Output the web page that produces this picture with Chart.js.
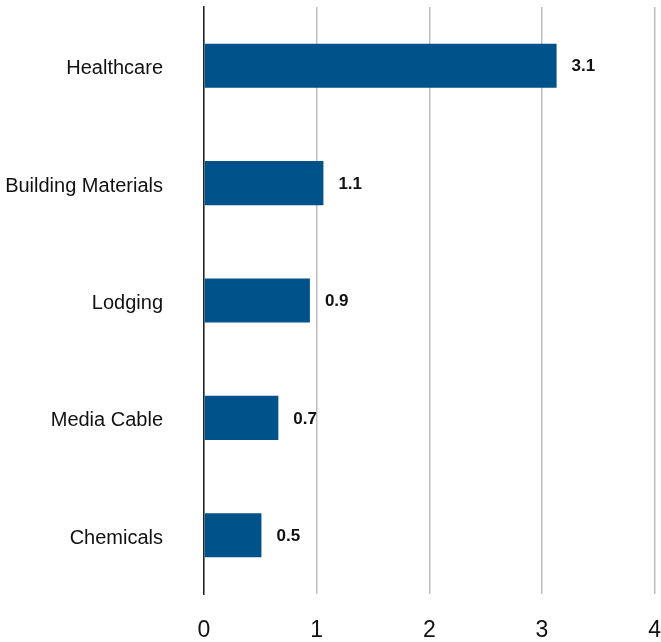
<!DOCTYPE html>
<html>
<head>
<meta charset="utf-8">
<script src="https://cdn.jsdelivr.net/npm/chart.js@4"></script>
<style>
  html, body { margin: 0; padding: 0; background: #fff; }
  #wrap { width: 661px; height: 642px; }
</style>
</head>
<body>
<div id="wrap"><canvas id="myChart"></canvas></div>
<script>
var sectors = ['Healthcare', 'Building Materials', 'Lodging', 'Media Cable', 'Chemicals'];
var values = [3.13, 1.06, 0.94, 0.66, 0.51];
var xTicks = [0, 1, 2, 3, 4];

var font = '"Liberation Sans Narrow", "Arial Narrow", "Liberation Sans", Arial, sans-serif';

// draws the value next to each bar
var valueLabels = {
    id: 'valueLabels',
    afterDatasetsDraw: function (chart) {
        var c = chart.ctx;
        var meta = chart.getDatasetMeta(0);
        c.save();
        c.font = 'bold 17px ' + font;
        c.fillStyle = '#111';
        c.textBaseline = 'middle';
        meta.data.forEach(function (bar, i) {
            c.fillText(values[i].toFixed(1), bar.x + 15, bar.y + 1);
        });
        c.restore();
    }
};

var ctx = document.getElementById('myChart').getContext('2d');
var myChart = new Chart(ctx, {
    type: 'bar',
    data: {
        labels: sectors,
        datasets: [{
            data: values,
            backgroundColor: '#00538A',
            categoryPercentage: 1,
            barPercentage: 0.376
        }]
    },
    options: {
        indexAxis: 'y',
        responsive: true,
        maintainAspectRatio: false,
        animation: false,
        layout: { padding: { left: 0, right: 6, top: 7, bottom: 0 } },
        plugins: {
            legend: { display: false },
            tooltip: { enabled: false }
        },
        scales: {
            x: {
                min: 0,
                max: 4,
                afterBuildTicks: function (scale) {
                    scale.ticks = xTicks.map(function (v) { return { value: v }; });
                },
                grid: {
                    color: '#BFBFBF',
                    lineWidth: 1.5,
                    drawTicks: true,
                    tickLength: 23,
                    tickColor: 'rgba(0,0,0,0)'
                },
                border: { display: false },
                ticks: {
                    padding: 0,
                    color: '#111',
                    font: { family: font, size: 23 }
                },
                afterFit: function (scale) { scale.height = 48; }
            },
            y: {
                grid: { display: false, drawTicks: true, tickLength: 41 },
                border: { display: true, color: '#222', width: 1.5 },
                ticks: {
                    padding: 0,
                    labelOffset: 3,
                    color: '#111',
                    font: { family: font, size: 20, lineHeight: 0.6 }
                },
                afterFit: function (scale) { scale.width = 204; }
            }
        }
    },
    plugins: [valueLabels]
});
</script>
</body>
</html>
